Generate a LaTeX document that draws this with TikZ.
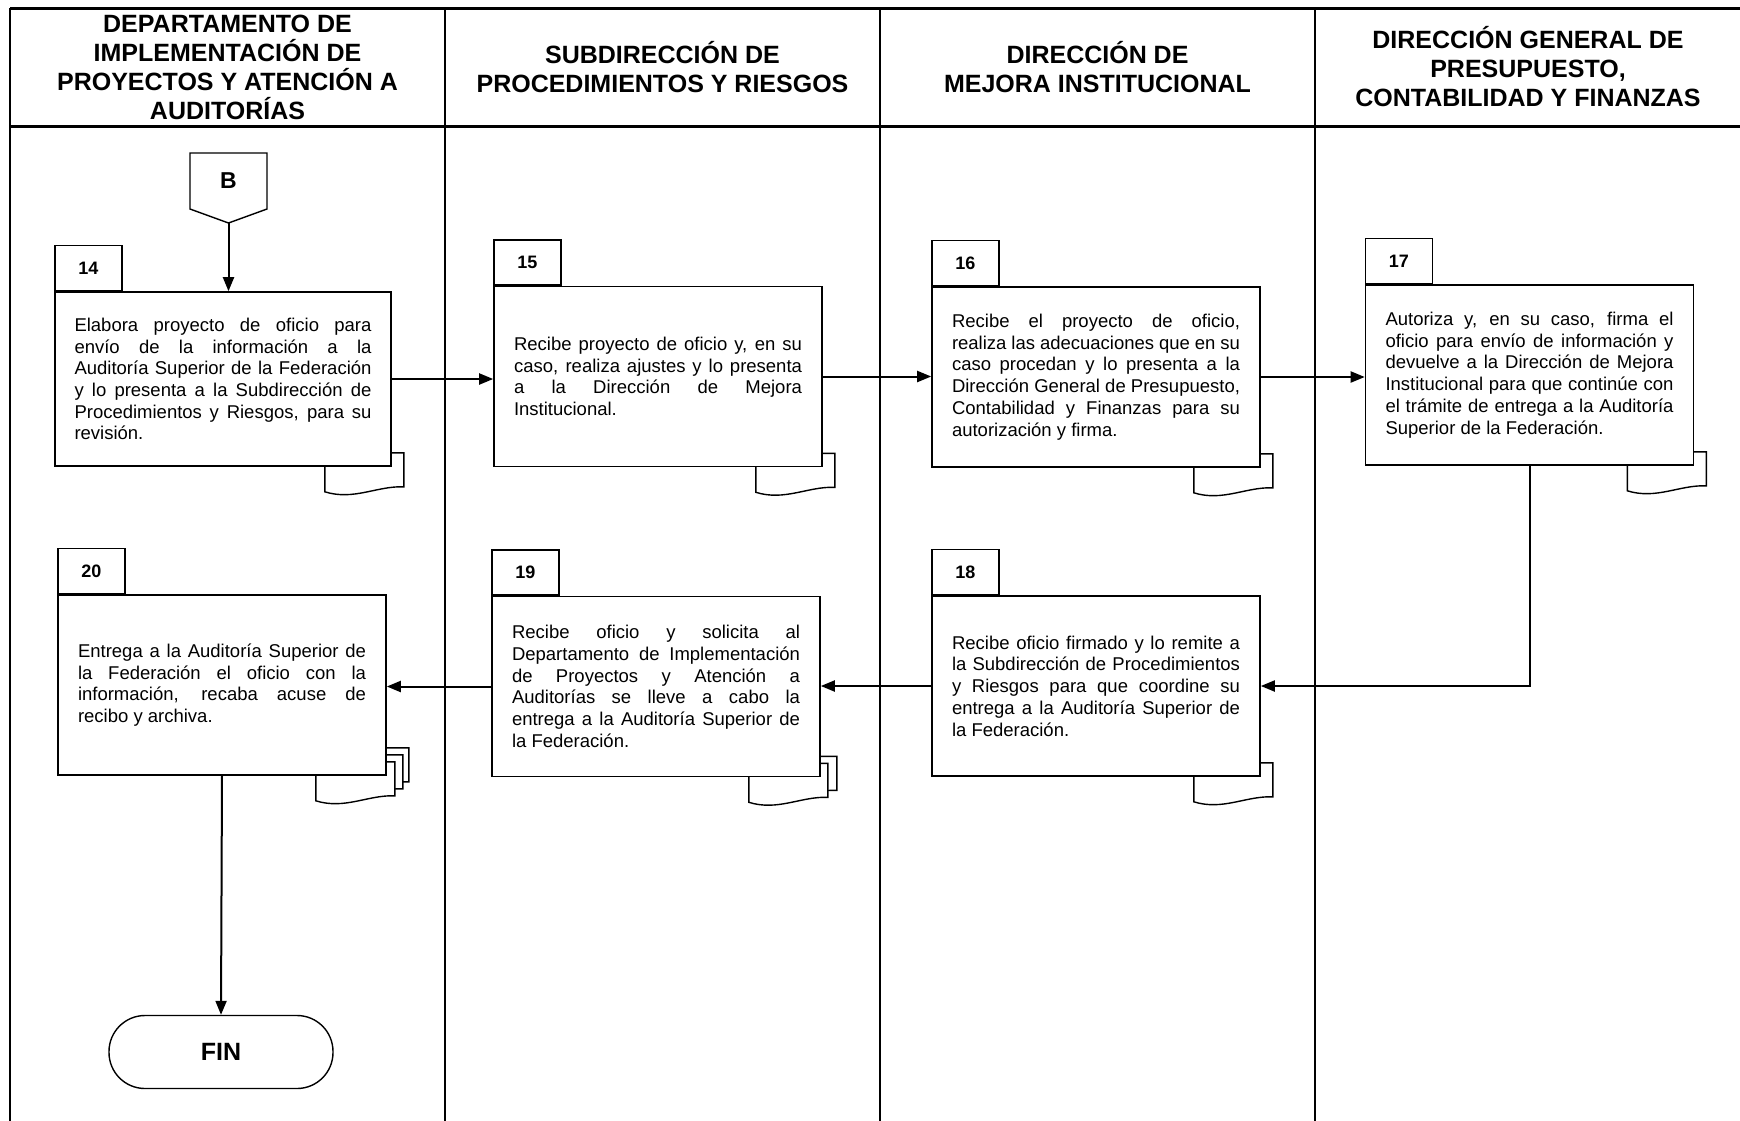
\documentclass[tikz,border=0pt]{standalone}
\usepackage{fontspec}
\setmainfont{Liberation Sans}
\usetikzlibrary{arrows.meta}
\pgfdeclarelayer{fondo}
\pgfsetlayers{fondo,main}
\hyphenpenalty=10000
\tolerance=9999

\begin{document}
\begin{tikzpicture}[x= 1pt, y= -1pt,
	marco/.style= {line width= 3pt},
	carril/.style= {line width= 2.2pt},
	titulo/.style= {align= center, font= \fontsize{25}{29}\selectfont\bfseries},
	caja/.style= {draw, line width= 1.6pt, fill= white, text width= 288pt, inner xsep= 20pt,
		minimum height= 180pt, align= justify, font= \fontsize{18.5}{21.7}\selectfont},
	numero/.style= {draw, line width= 1.3pt, fill= white, anchor= south west,
		minimum width= 67pt, minimum height= 45pt, font= \fontsize{18}{20}\selectfont\bfseries},
	flecha/.style= {line width= 2pt, -{Triangle[length= 14pt, width= 11pt]}},
	hoja/.pic= {\draw[line width= 1.4pt, fill= white] (-67, -14) -- (12, -14) -- (12, 20)
		.. controls (-15, 19) and (-38, 34) .. (-67, 25) -- cycle;}
]
\useasboundingbox (0, 0) rectangle (1740, 1120);
% marco y carriles
	\draw[marco] (10, 8) -- (1745, 8); %
	\draw[marco] (10, 126) -- (1745, 126); %
	\draw[carril] (10, 8) -- (10, 1125); %
	\draw[carril] (445, 8) -- (445, 1125);
	\draw[carril] (880, 8) -- (880, 1125);
	\draw[carril] (1315, 8) -- (1315, 1125);
% encabezados
	\node[titulo] (t1) at (227.5, 67) {DEPARTAMENTO DE\\IMPLEMENTACIÓN DE\\PROYECTOS Y ATENCIÓN A\\AUDITORÍAS};
	\node[titulo] (t2) at (662.5, 67) {SUBDIRECCIÓN DE\\PROCEDIMIENTOS Y RIESGOS};
	\node[titulo] (t3) at (1097.5, 67) {DIRECCIÓN DE\\MEJORA INSTITUCIONAL};
	\node[titulo] (t4) at (1528, 67) {DIRECCIÓN GENERAL DE\\PRESUPUESTO,\\CONTABILIDAD Y FINANZAS};
% conector B
	\draw[line width= 1.4pt] (190, 153) -- (267, 153) -- (267, 209) -- (228.5, 223) -- (190, 209) -- cycle;
	\node[font= \fontsize{23}{26}\selectfont\bfseries] (B) at (228.5, 181) {B};
	\coordinate (Bpunta) at (228.5, 223);
% actividades, fila de arriba
	\node[caja, text width= 297pt, inner xsep= 19.5pt, minimum height= 174pt] (p14) at (223, 379)
		{Elabora proyecto de oficio para\linebreak envío de la información a la\linebreak Auditoría Superior de la Federación\linebreak y lo presenta a la Subdirección de\linebreak Procedimientos y Riesgos, para su\linebreak revisión.};
	\node[caja] (p15) at (658, 376.5)
		{Recibe proyecto de oficio y, en su\linebreak caso, realiza ajustes y lo presenta\linebreak a la Dirección de Mejora\linebreak Institucional.};
	\node[caja] (p16) at (1096, 377)
		{Recibe el proyecto de oficio,\linebreak realiza las adecuaciones que en su\linebreak caso procedan y lo presenta a la\linebreak Dirección General de Presupuesto,\linebreak Contabilidad y Finanzas para su\linebreak autorización y firma.};
	\node[caja] (p17) at (1529.5, 375)
		{Autoriza y, en su caso, firma el\linebreak oficio para envío de información y\linebreak devuelve a la Dirección de Mejora\linebreak Institucional para que continúe con\linebreak el trámite de entrega a la Auditoría\linebreak Superior de la Federación.};
% actividades, fila de abajo
	\node[caja] (p18) at (1096, 686)
		{Recibe oficio firmado y lo remite a\linebreak la Subdirección de Procedimientos\linebreak y Riesgos para que coordine su\linebreak entrega a la Auditoría Superior de\linebreak la Federación.};
	\node[caja] (p19) at (656, 686.5)
		{Recibe oficio y solicita al\linebreak Departamento de Implementación\linebreak de Proyectos y Atención a\linebreak Auditorías se lleve a cabo la\linebreak entrega a la Auditoría Superior de\linebreak la Federación.};
	\node[caja] (p20) at (222, 685)
		{Entrega a la Auditoría Superior de\linebreak la Federación el oficio con la\linebreak información, recaba acuse de\linebreak recibo y archiva.};
% numeros
	\node[numero] (n14) at (p14.north west) {14};
	\node[numero] (n15) at (p15.north west) {15};
	\node[numero] (n16) at (p16.north west) {16};
	\node[numero] (n17) at (p17.north west) {17};
	\node[numero] (n18) at (p18.north west) {18};
	\node[numero] (n19) at (p19.north west) {19};
	\node[numero] (n20) at (p20.north west) {20};
% documentos
\begin{pgfonlayer}{fondo}
	\pic at (p14.south east) {hoja};
	\pic at (p15.south east) {hoja};
	\pic at (p16.south east) {hoja};
	\pic at (p17.south east) {hoja};
	\pic at (p18.south east) {hoja};
	\pic at ([shift= {(4, -7)}]p19.south east) {hoja}; % dos hojas
	\pic at ([shift= {(-5, 0)}]p19.south east) {hoja};
	\pic at ([shift= {(10, -14)}]p20.south east) {hoja}; % tres hojas
	\pic at ([shift= {(4, -7)}]p20.south east) {hoja};
	\pic at ([shift= {(-4, 0)}]p20.south east) {hoja};
\end{pgfonlayer}
% fin
	\node[draw, line width= 1.4pt, rounded corners= 36pt, minimum width= 224pt, minimum height= 73pt,
		font= \fontsize{25}{29}\selectfont\bfseries] (fin) at (221, 1052) {FIN};
% flechas
	\draw[flecha] (Bpunta) -- (Bpunta |- p14.north);
	\draw[flecha] (p14.east) -- (p14.east -| p15.west);
	\draw[flecha] (p15.east) -- (p15.east -| p16.west);
	\draw[flecha] (p16.east) -- (p16.east -| p17.west);
	\draw[flecha] (p17.south) |- (p18.east);
	\draw[flecha] (p18.west) -- (p18.west -| p19.east);
	\draw[flecha] (p19.west) -- (p19.west -| p20.east);
	\draw[flecha] (p20.south) -- (fin.north);
\end{tikzpicture}
\end{document}
